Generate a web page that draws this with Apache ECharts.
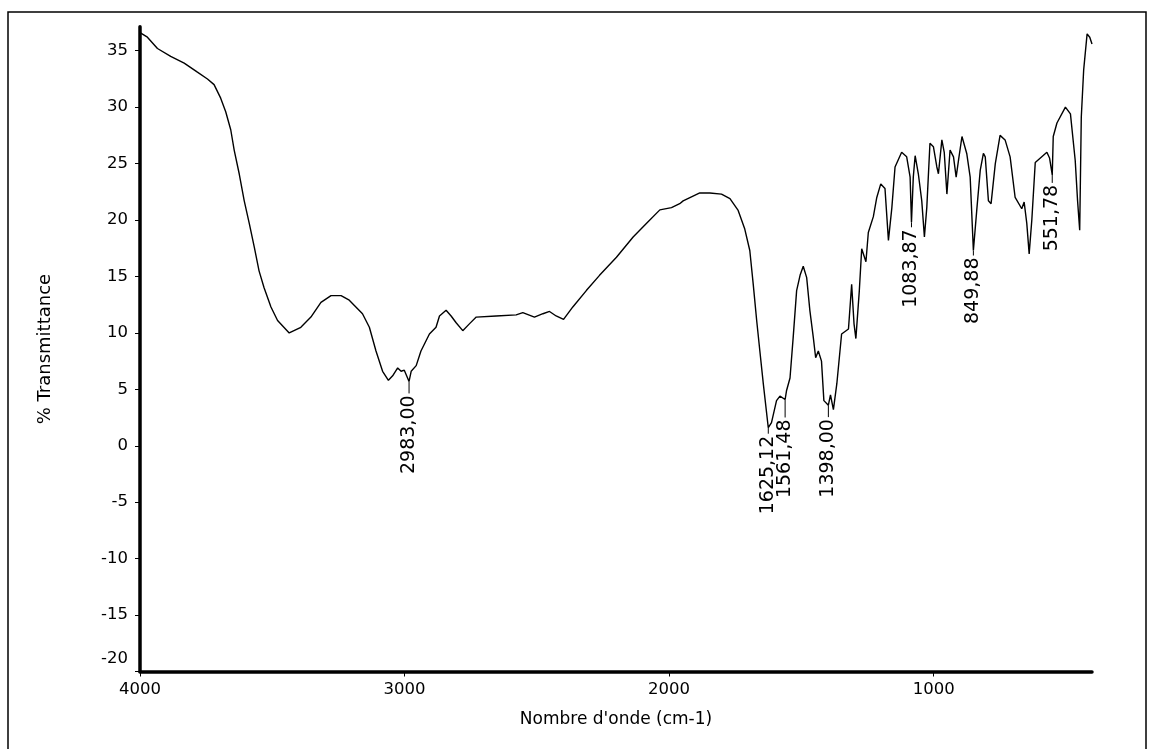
<!DOCTYPE html>
<html><head><meta charset="utf-8">
<script src="https://cdn.jsdelivr.net/npm/echarts@6/dist/echarts.min.js"></script>
<style>html,body{margin:0;padding:0;background:#fff}#c{width:1151px;height:749px}</style>
</head><body><div id="c"></div>
<script>
// ---- data ----
const wavenumber = [4000,3972,3934,3884,3833,3783,3745,3720,3695,3676,3657,3644,3625,3606,3587,3568,3550,3531,3505,3480,3436,3392,3354,3316,3278,3240,3209,3159,3133,3108,3083,3061,3045,3026,3013,3001,2983,2975,2956,2938,2906,2881,2868,2843,2824,2805,2780,2755,2729,2654,2578,2553,2509,2477,2452,2427,2399,2364,2313,2263,2199,2136,2086,2035,1991,1960,1947,1884,1846,1802,1770,1739,1714,1695,1682,1669,1657,1644,1625.12,1613,1594,1581,1561.48,1556,1543,1531,1518,1505,1493,1480,1468,1455,1446,1436,1424,1415,1398,1390,1379,1366,1348,1322,1310,1301,1294,1281,1272,1256,1247,1228,1215,1200,1184,1171,1158,1146,1121,1102,1089,1083.87,1077,1070,1058,1045,1035,1026,1014,1001,988,982,969,960,950,938,925,915,906,893,875,862,849.88,837,824,812,805,793,783,767,749,730,711,692,667,658,648,639,629,616,572,562,551.78,548,534,502,483,465,456,448,442,433,420,410,401.5];
const transmittance = [36.6,36.2,35.2,34.5,33.9,33.1,32.5,32.0,30.8,29.6,28.0,26.2,24.1,21.7,19.7,17.6,15.5,14.0,12.3,11.1,10.0,10.5,11.4,12.7,13.3,13.3,12.9,11.7,10.5,8.4,6.6,5.8,6.2,6.9,6.6,6.7,5.7,6.6,7.1,8.4,9.9,10.5,11.5,12.0,11.5,10.9,10.2,10.8,11.4,11.5,11.6,11.8,11.4,11.7,11.9,11.5,11.2,12.3,13.75,15.1,16.7,18.5,19.7,20.9,21.1,21.45,21.7,22.4,22.4,22.3,21.9,20.85,19.2,17.3,14.3,11.1,8.4,5.5,1.6,2.05,4.0,4.4,4.1,4.9,6.0,9.6,13.75,15.1,15.9,14.9,12.0,9.6,7.8,8.4,7.5,4.0,3.6,4.5,3.2,5.5,9.9,10.35,14.3,10.8,9.5,13.75,17.45,16.3,18.9,20.3,22.0,23.2,22.8,18.2,21.1,24.7,26.0,25.6,23.8,19.8,23.8,25.7,24.1,21.7,18.5,21.1,26.8,26.5,24.7,24.1,27.1,26.0,22.3,26.2,25.6,23.8,25.3,27.4,25.9,23.8,17.3,20.9,24.4,25.9,25.6,21.7,21.45,25.0,27.5,27.1,25.6,22.0,21.0,21.6,19.7,17.0,20.0,25.1,26.0,25.5,24.0,27.4,28.6,30.0,29.4,25.3,21.7,19.1,29.1,33.3,36.5,36.2,35.6];
const xTickValues = [4000, 3000, 2000, 1000];
const yTickValues = [-20, -15, -10, -5, 0, 5, 10, 15, 20, 25, 30, 35];
const peakWavenumber = [2983.00, 1625.12, 1561.48, 1398.00, 1083.87, 849.88, 551.78];
const peakTransmittance = [5.7, 1.6, 4.1, 3.6, 19.8, 17.3, 24.0];
const peakLabels = ['2983,00', '1625,12', '1561,48', '1398,00', '1083,87', '849,88', '551,78'];
const xTitle = "Nombre d'onde (cm-1)";
const yTitle = '% Transmittance';

// ---- styling ----
const peakLineLen = [12, 6, 18, 12, 5, 5, 8];
const FONT = 'DejaVu Sans';

const lineData = wavenumber.map((w, i) => [w, transmittance[i]]);
const peakData = peakWavenumber.map((w, i) => [w, peakTransmittance[i]]);

const chart = echarts.init(document.getElementById('c'), null, {renderer: 'canvas'});
chart.setOption({
  animation: false,
  backgroundColor: '#fff',
  graphic: [{
    type: 'rect', shape: {x: 8, y: 12, width: 1138, height: 745},
    style: {fill: 'none', stroke: '#000', lineWidth: 1.5}, silent: true
  }],
  grid: {left: 140, right: 59, top: 26.7, bottom: 77.5, containLabel: false},
  xAxis: {
    type: 'value', inverse: true, min: 401.5, max: 4000,
    name: xTitle, nameLocation: 'middle', nameGap: 40,
    nameTextStyle: {fontFamily: FONT, fontSize: 17, color: '#000'},
    axisLine: {onZero: false, lineStyle: {color: '#000', width: 3.5}},
    axisTick: {show: true, length: 5, lineStyle: {color: '#000', width: 1}, customValues: xTickValues},
    axisLabel: {fontFamily: FONT, fontSize: 16.5, color: '#000', margin: 10, customValues: xTickValues,
                formatter: v => String(v)},
    splitLine: {show: false}
  },
  yAxis: {
    type: 'value', min: -20, max: 37.13,
    name: yTitle, nameLocation: 'middle', nameGap: 86, nameRotate: 90,
    nameTextStyle: {fontFamily: FONT, fontSize: 18, color: '#000'},
    axisLine: {show: true, onZero: false, lineStyle: {color: '#000', width: 3.5}},
    axisTick: {show: true, length: 5, lineStyle: {color: '#000', width: 1}, customValues: yTickValues},
    axisLabel: {
      fontFamily: FONT, fontSize: 16.5, color: '#000', margin: 12, customValues: yTickValues,
      formatter: v => (v === -20 ? '{s|-20}' : String(v)),
      rich: {s: {fontFamily: FONT, fontSize: 16.5, color: '#000', padding: [0, 0, 26, 0]}}
    },
    splitLine: {show: false}
  },
  series: [{
    type: 'line', data: lineData, showSymbol: false, symbol: 'none', smooth: false,
    lineStyle: {color: '#000', width: 1.4}, silent: true, z: 3
  }, {
    type: 'custom', data: peakData, clip: false, silent: true, z: 4,
    renderItem: function (params, api) {
      const p = api.coord([api.value(0), api.value(1)]);
      const len = peakLineLen[params.dataIndex];
      return {
        type: 'group',
        children: [{
          type: 'line',
          shape: {x1: p[0], y1: p[1], x2: p[0], y2: p[1] + len},
          style: {stroke: '#000', lineWidth: 1}
        }, {
          type: 'text', x: p[0], y: p[1] + len + 2, rotation: Math.PI / 2,
          style: {text: peakLabels[params.dataIndex], align: 'right', verticalAlign: 'middle',
                  fontFamily: FONT, fontSize: 19, fill: '#000'}
        }]
      };
    }
  }]
});
</script></body></html>
